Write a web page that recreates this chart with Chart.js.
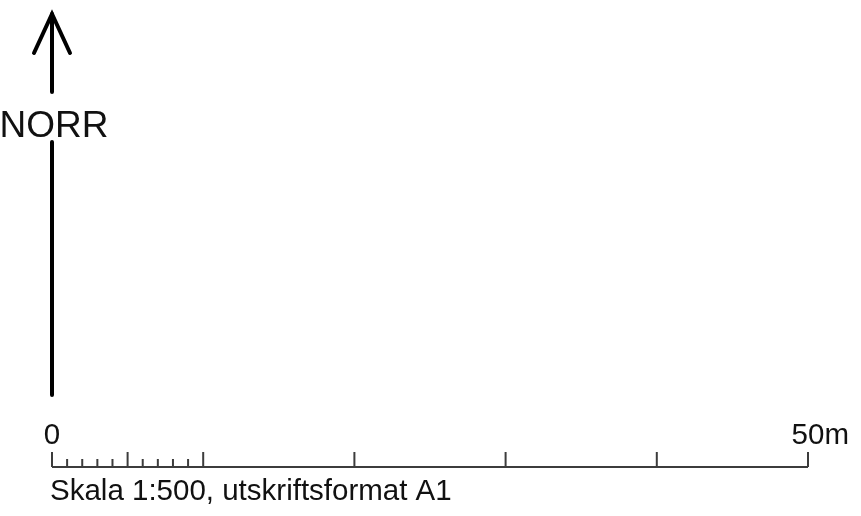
<!DOCTYPE html>
<html>
<head>
<meta charset="utf-8">
<style>
  html, body { margin: 0; padding: 0; background: #fff; }
  #wrap { width: 861px; height: 516px; }
</style>
</head>
<body>
<script src="https://cdn.jsdelivr.net/npm/chart.js@4/dist/chart.umd.min.js"></script>
<div id="wrap"><canvas id="myChart"></canvas></div>
<script>
// scale bar values (metres)
const majorTicks = [0, 10, 20, 30, 40, 50];
const minorTicks = [1, 2, 3, 4, 6, 7, 8, 9];
const midTicks = [5];
const endLabels = ['0', '50'];
const unit = 'm';
const northLabel = 'NORR';
const caption = 'Skala 1:500, utskriftsformat A1';

// layout (pixels from top, y axis is reversed)
const barY = 467, majorTop = 452, minorTop = 459;
const FONT = '"Liberation Sans", Arial, sans-serif';

// build one line with gaps for each group of ticks
function tickLine(values, top) {
  const pts = [];
  values.forEach(v => {
    pts.push({x: v, y: barY}, {x: v, y: top}, {x: v, y: null});
  });
  return pts;
}

const lineStyle = {
  type: 'line', showLine: true, pointRadius: 0, fill: false,
  borderColor: '#3c3c3c', borderWidth: 2, spanGaps: false
};
const arrowStyle = {
  type: 'line', showLine: true, pointRadius: 0, fill: false,
  borderColor: '#000', borderWidth: 4, borderCapStyle: 'round', borderJoinStyle: 'miter'
};

const labelsPlugin = {
  id: 'labels',
  afterDatasetsDraw(chart) {
    const c = chart.ctx, xs = chart.scales.x;
    c.save();
    c.fillStyle = '#111';
    c.textBaseline = 'alphabetic';
    // 0 / 50m labels over the bar ends
    c.font = '29.5px ' + FONT;
    c.textAlign = 'center';
    c.fillText(endLabels[0], xs.getPixelForValue(majorTicks[0]), 444);
    const w = c.measureText(endLabels[1]).width;
    c.textAlign = 'left';
    c.fillText(endLabels[1] + unit, xs.getPixelForValue(majorTicks[majorTicks.length - 1]) - w / 2, 444);
    // caption
    c.font = '29.5px ' + FONT;
    c.fillText(caption, 50, 500);
    // north label
    c.font = '37px ' + FONT;
    c.textAlign = 'center';
    c.fillText(northLabel, xs.getPixelForValue(0) + 2, 137);
    c.restore();
  }
};

const pxPerM = 756 / 50;
const xMin = -52 / pxPerM;

const ctx = document.getElementById('myChart').getContext('2d');
const myChart = new Chart(ctx, {
  type: 'scatter',
  data: {
    datasets: [
      Object.assign({ data: [{x: majorTicks[0], y: barY}, {x: majorTicks[majorTicks.length - 1], y: barY}] }, lineStyle),
      Object.assign({ data: tickLine(majorTicks, majorTop) }, lineStyle),
      Object.assign({ data: tickLine(midTicks, majorTop) }, lineStyle),
      Object.assign({ data: tickLine(minorTicks, minorTop) }, lineStyle),
      // north arrow
      Object.assign({ data: [{x: 0, y: 14}, {x: 0, y: 92}] }, arrowStyle),
      Object.assign({ data: [{x: -18 / pxPerM, y: 53}, {x: 0, y: 14}, {x: 18 / pxPerM, y: 53}] }, arrowStyle),
      Object.assign({ data: [{x: 0, y: 142}, {x: 0, y: 395}] }, arrowStyle)
    ]
  },
  options: {
    responsive: true,
    maintainAspectRatio: false,
    animation: false,
    layout: { padding: 0 },
    plugins: { legend: { display: false }, tooltip: { enabled: false } },
    scales: {
      x: { type: 'linear', display: false, min: xMin, max: xMin + 861 / pxPerM },
      y: { type: 'linear', display: false, min: 0, max: 516, reverse: true }
    }
  },
  plugins: [labelsPlugin]
});
</script>
</body>
</html>
